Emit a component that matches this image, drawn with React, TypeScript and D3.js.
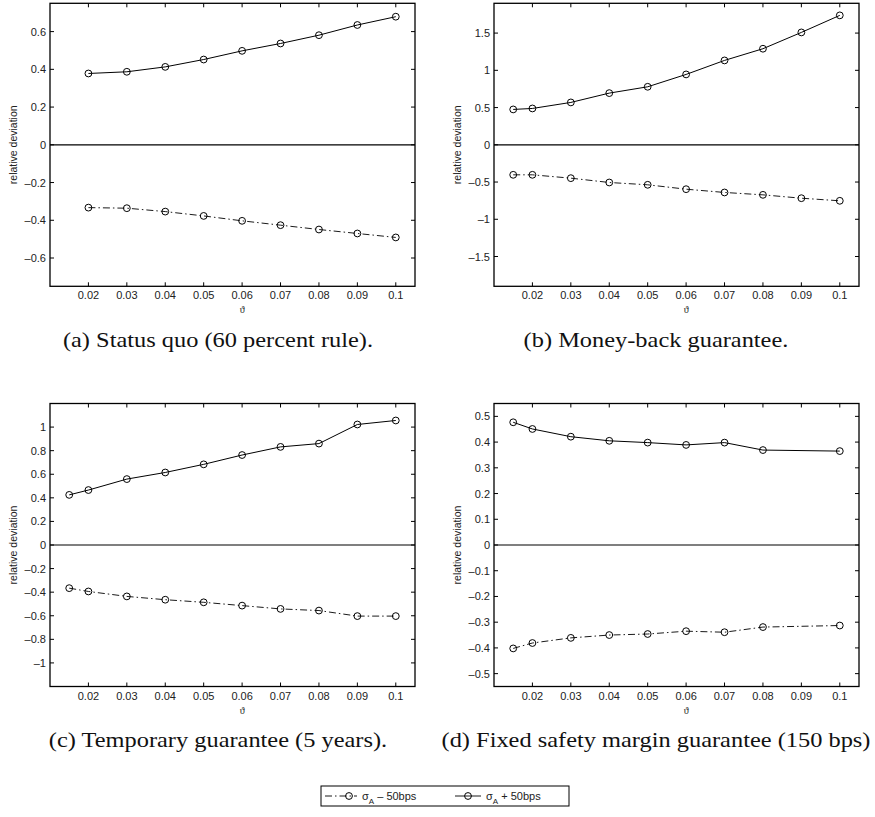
import React from 'react';
import * as d3 from 'd3';

// x values (theta)
const thetaA = [0.02, 0.03, 0.04, 0.05, 0.06, 0.07, 0.08, 0.09, 0.1];
const thetaBC = [0.015, 0.02, 0.03, 0.04, 0.05, 0.06, 0.07, 0.08, 0.09, 0.1];
const thetaD = [0.015, 0.02, 0.03, 0.04, 0.05, 0.06, 0.07, 0.08, 0.1];

// (a) status quo
const plusA = [0.378, 0.387, 0.413, 0.452, 0.498, 0.537, 0.581, 0.635, 0.679];
const minusA = [-0.333, -0.336, -0.354, -0.377, -0.403, -0.426, -0.449, -0.47, -0.491];
// (b) money-back
const plusB = [0.475, 0.488, 0.569, 0.694, 0.779, 0.945, 1.133, 1.29, 1.509, 1.738];
const minusB = [-0.403, -0.403, -0.448, -0.506, -0.537, -0.596, -0.64, -0.672, -0.717, -0.752];
// (c) temporary
const plusC = [0.425, 0.466, 0.559, 0.615, 0.684, 0.763, 0.832, 0.86, 1.022, 1.056];
const minusC = [-0.366, -0.394, -0.436, -0.464, -0.486, -0.514, -0.542, -0.556, -0.603, -0.603];
// (d) fixed safety margin
const plusD = [0.477, 0.451, 0.421, 0.405, 0.398, 0.389, 0.398, 0.369, 0.365];
const minusD = [-0.402, -0.381, -0.361, -0.35, -0.346, -0.335, -0.339, -0.319, -0.313];

const xTicks = [0.02, 0.03, 0.04, 0.05, 0.06, 0.07, 0.08, 0.09, 0.1];
const yTicksA = [-0.6, -0.4, -0.2, 0, 0.2, 0.4, 0.6];
const yTicksB = [-1.5, -1, -0.5, 0, 0.5, 1, 1.5];
const yTicksC = [-1, -0.8, -0.6, -0.4, -0.2, 0, 0.2, 0.4, 0.6, 0.8, 1];
const yTicksD = [-0.5, -0.4, -0.3, -0.2, -0.1, 0, 0.1, 0.2, 0.3, 0.4, 0.5];

const captions = [
  '(a) Status quo (60 percent rule).',
  '(b) Money-back guarantee.',
  '(c) Temporary guarantee (5 years).',
  '(d) Fixed safety margin guarantee (150 bps)',
];
const legendLabels = ['\u2013 50bps', '+ 50bps'];

const sans = '"Liberation Sans", Arial, sans-serif';
const serif = '"Liberation Serif", "Times New Roman", serif';
const dashDot = '7,3,1.5,3';

const fmt = (v: number) => String(v).replace('-', '\u2013');

const Panel = ({ left, top, xs, plus, minus, yMax, yTicks, caption, capX, capY }: any) => {
  const w = 365;
  const h = 283;
  const x = d3.scaleLinear().domain([0.01, 0.105]).range([0, w]);
  const y = d3.scaleLinear().domain([-yMax, yMax]).range([h, 0]);
  const line = d3.line<number>().x((d, i) => x(xs[i])).y((d) => y(d));
  const tl = 4;
  return (
    <g>
      <g transform={`translate(${left},${top})`}>
        <line x1={0} x2={w} y1={y(0)} y2={y(0)} stroke="#000" strokeWidth={1.2} />
        <path d={line(minus) || ''} fill="none" stroke="#000" strokeWidth={0.9} strokeDasharray={dashDot} />
        <path d={line(plus) || ''} fill="none" stroke="#000" strokeWidth={1} />
        {[minus, plus].map((s: number[], k: number) =>
          s.map((v, i) => (
            <circle key={`${k}-${i}`} cx={x(xs[i])} cy={y(v)} r={3.4} fill="none" stroke="#000" strokeWidth={1} />
          ))
        )}
        {xTicks.map((t) => (
          <g key={`x${t}`}>
            <line x1={x(t)} x2={x(t)} y1={h} y2={h - tl} stroke="#000" />
            <line x1={x(t)} x2={x(t)} y1={0} y2={tl} stroke="#000" />
            <text x={x(t)} y={h + 13} textAnchor="middle" fontFamily={sans} fontSize={11} fill="#222">
              {fmt(t)}
            </text>
          </g>
        ))}
        {yTicks.map((t: number) => (
          <g key={`y${t}`}>
            <line x1={0} x2={tl} y1={y(t)} y2={y(t)} stroke="#000" />
            <line x1={w} x2={w - tl} y1={y(t)} y2={y(t)} stroke="#000" />
            <text x={-4} y={y(t) + 4} textAnchor="end" fontFamily={sans} fontSize={11} fill="#222">
              {fmt(t)}
            </text>
          </g>
        ))}
        <rect x={0} y={0} width={w} height={h} fill="none" stroke="#000" strokeWidth={1.3} />
        <text x={x(0.06)} y={h + 27} textAnchor="middle" fontFamily={serif} fontSize={10} fill="#222">
          ϑ
        </text>
        <text
          transform={`translate(${-33},${h / 2}) rotate(-90)`}
          textAnchor="middle"
          fontFamily={sans}
          fontSize={10.5}
          fill="#222"
        >
          relative deviation
        </text>
      </g>
      <text
        transform={`translate(${capX},${capY}) scale(1.22,1)`}
        textAnchor="middle"
        fontFamily={serif}
        fontSize={20}
        fill="#111"
      >
        {caption}
      </text>
    </g>
  );
};

const Legend = () => {
  const lx = 321;
  const ly = 786;
  const cy = ly + 10;
  const items = [
    { x0: 325, x1: 357, c: 349, dash: dashDot, tx: 362, label: legendLabels[0] },
    { x0: 455, x1: 481, c: 468, dash: undefined, tx: 486, label: legendLabels[1] },
  ];
  return (
    <g>
      <rect x={lx} y={ly} width={248} height={20} fill="#fff" stroke="#000" strokeWidth={1} />
      {items.map((it, i) => (
        <g key={i}>
          <line x1={it.x0} x2={it.x1} y1={cy} y2={cy} stroke="#000" strokeWidth={0.9} strokeDasharray={it.dash} />
          <circle cx={it.c} cy={cy} r={3.4} fill="none" stroke="#000" />
          <text x={it.tx} y={cy + 4} fontFamily={sans} fontSize={11} fill="#222">
            σ
            <tspan fontSize={8} dy={4}>A</tspan>
            <tspan dy={-4}> {it.label}</tspan>
          </text>
        </g>
      ))}
    </g>
  );
};

export default function App() {
  return (
    <svg
      width={875}
      height={817}
      style={{ position: 'absolute', left: 0, top: 0, background: '#fff' }}
    >
      <Panel left={50} top={3.3} xs={thetaA} plus={plusA} minus={minusA} yMax={0.75} yTicks={yTicksA} caption={captions[0]} capX={218} capY={347} />
      <Panel left={494} top={3.3} xs={thetaBC} plus={plusB} minus={minusB} yMax={1.9} yTicks={yTicksB} caption={captions[1]} capX={656} capY={347} />
      <Panel left={50} top={403.5} xs={thetaBC} plus={plusC} minus={minusC} yMax={1.2} yTicks={yTicksC} caption={captions[2]} capX={218} capY={747} />
      <Panel left={494} top={403.5} xs={thetaD} plus={plusD} minus={minusD} yMax={0.55} yTicks={yTicksD} caption={captions[3]} capX={656} capY={747} />
      <Legend />
    </svg>
  );
}
